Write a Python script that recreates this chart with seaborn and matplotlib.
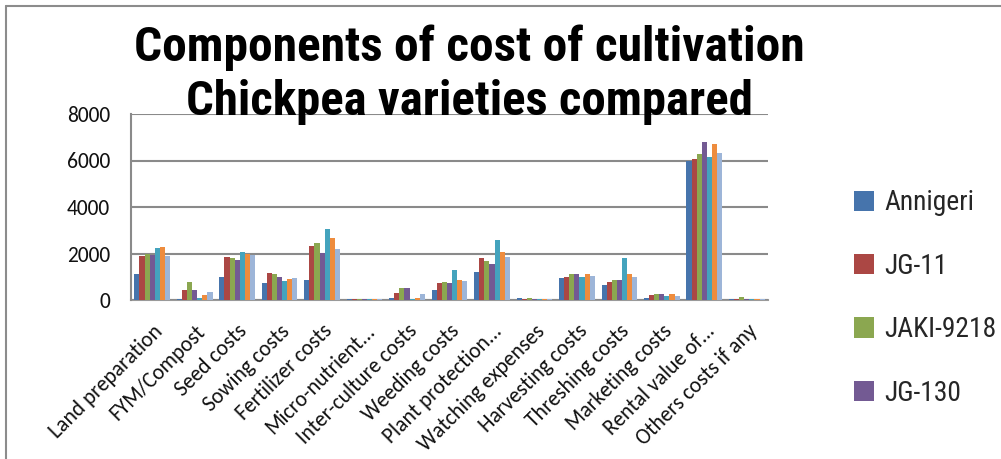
import matplotlib
matplotlib.use("Agg")
import matplotlib.pyplot as plt
from matplotlib import font_manager
from matplotlib.lines import Line2D
from matplotlib.patches import Patch
import seaborn as sns
import pandas as pd

categories = ["Land preparation", "FYM/Compost", "Seed costs", "Sowing costs",
              "Fertilizer costs", "Micro-nutrient...", "Inter-culture costs",
              "Weeding costs", "Plant protection...", "Watching expenses",
              "Harvesting costs", "Threshing costs", "Marketing costs",
              "Rental value of...", "Others costs if any"]

series_names = ["Annigeri", "JG-11", "JAKI-9218", "JG-130",
                "Series 5", "Series 6", "Series 7"]

annigeri = [1100, 40, 990, 720, 850, 60, 100, 420, 1200, 80, 940, 660, 70, 5970, 50]
jg11     = [1890, 450, 1860, 1140, 2310, 60, 280, 720, 1800, 60, 990, 775, 225, 6060, 50]
jaki9218 = [1990, 775, 1820, 1110, 2440, 60, 520, 775, 1680, 80, 1110, 870, 270, 6290, 140]
jg130    = [1930, 450, 1730, 990, 2040, 60, 520, 720, 1560, 50, 1100, 870, 240, 6800, 50]
series5  = [2240, 100, 2070, 830, 3040, 60, 40, 1300, 2600, 50, 1000, 1800, 155, 6130, 50]
series6  = [2280, 210, 2000, 890, 2660, 60, 70, 870, 2080, 50, 1130, 1130, 240, 6710, 50]
series7  = [1900, 350, 1940, 940, 2210, 60, 250, 800, 1850, 50, 1040, 1010, 180, 6330, 50]

all_series = [annigeri, jg11, jaki9218, jg130, series5, series6, series7]
colors = ["#4674AC", "#AB4744", "#8BA750", "#735A93", "#44A3BD", "#EE8C3E", "#9DB5D8"]

rows = []
for name, vals in zip(series_names, all_series):
    for c, v in zip(categories, vals):
        rows.append({"Component": c, "Variety": name, "Cost": v})
df = pd.DataFrame(rows)

sns.set_theme(style="white")
avail = sorted({f.name for f in font_manager.fontManager.ttflist})
narrow = None
for cand in ["Liberation Sans Narrow", "Arial Narrow", "Roboto Condensed",
             "Open Sans Condensed", "DejaVu Sans Condensed", "Noto Sans Condensed"]:
    if cand in avail:
        narrow = cand
        break
if narrow is None:
    for n in avail:
        if "Narrow" in n or "Condensed" in n:
            narrow = n
            break
if narrow is None:
    narrow = "Roboto" if "Roboto" in avail else "Liberation Sans"
body = "Carlito" if "Carlito" in avail else ("Lato" if "Lato" in avail else "DejaVu Sans")
plt.rcParams["font.family"] = [body, "DejaVu Sans"]

fig = plt.figure(figsize=(10.01, 4.59), dpi=100)
ax = fig.add_axes([131/1001, 1 - 300/459, 637/1001, 186/459])

sns.barplot(data=df, x="Component", y="Cost", hue="Variety", order=categories,
            hue_order=series_names, palette=colors, width=0.84, ax=ax,
            legend=False, saturation=1, edgecolor="none", linewidth=0)

ax.set_ylim(0, 8000)
ax.set_yticks([0, 2000, 4000, 6000, 8000])
ax.set_xlim(-0.5, len(categories) - 0.5)
ax.yaxis.grid(True, color="#8a8a8a", linewidth=1.5)
ax.set_axisbelow(True)
for s in ["top", "right"]:
    ax.spines[s].set_visible(False)
ax.spines["left"].set_color("#8a8a8a")
ax.spines["left"].set_linewidth(1.5)
ax.spines["bottom"].set_color("#9a9a9a")
ax.spines["bottom"].set_linewidth(1.5)
ax.spines["bottom"].set_zorder(0.4)
ax.set_xlabel("")
ax.set_ylabel("")
ax.tick_params(axis="y", labelsize=15.5, pad=15, length=0, colors="#111111")
ax.tick_params(axis="x", labelsize=15.5, pad=15, length=0, colors="#111111")
for lab in ax.get_xticklabels():
    lab.set_rotation(45)
    lab.set_ha("right")
    lab.set_va("top")
    lab.set_rotation_mode("anchor")

renderer = fig.canvas.get_renderer()

def fit_width(txt, target_px):
    w = txt.get_window_extent(renderer).width
    txt.set_fontsize(txt.get_fontsize() * target_px / w)

t1 = fig.text(469/1001, 1 - 48/459, "Components of cost of cultivation",
              ha="center", va="center", fontsize=34, fontweight="bold",
              family=[narrow, "DejaVu Sans"], color="black")
t2 = fig.text(469/1001, 1 - 102/459, "Chickpea varieties compared",
              ha="center", va="center", fontsize=34, fontweight="bold",
              family=[narrow, "DejaVu Sans"], color="black")
fit_width(t1, 670)
fit_width(t2, 566)

probe = fig.text(0, 0, "Annigeri", fontsize=18, family=[narrow, "DejaVu Sans"])
pw = probe.get_window_extent(renderer).width
leg_size = 18 * 90 / pw
probe.remove()

handles = [Patch(facecolor=colors[i], edgecolor="none") for i in range(4)]
leg = fig.legend(handles, series_names[:4], loc="center left",
                 bbox_to_anchor=(840/1001, 1 - 298/459), frameon=False,
                 prop={"family": [narrow, "DejaVu Sans"], "size": leg_size},
                 handlelength=0.75, handleheight=0.75, handletextpad=0.35,
                 labelspacing=(68 - leg_size * 100 / 72 * 1.15) / (leg_size * 100 / 72),
                 borderpad=0)

fig.add_artist(Line2D([6/1001, 1], [1 - 6/459, 1 - 6/459], color="#8c8c8c",
                      linewidth=1.5, transform=fig.transFigure))
fig.add_artist(Line2D([6/1001, 6/1001], [0, 1 - 6/459], color="#8c8c8c",
                      linewidth=1.5, transform=fig.transFigure))

fig.savefig("out.png", dpi=100)
